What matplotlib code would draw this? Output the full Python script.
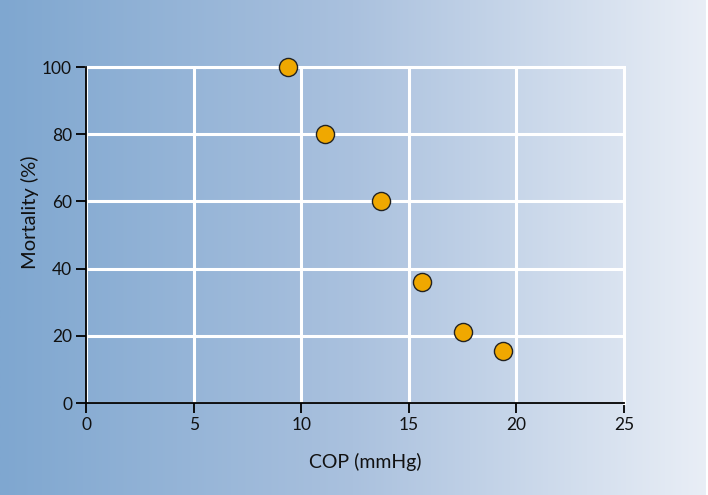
import numpy as np
import matplotlib.pyplot as plt
from matplotlib.colors import LinearSegmentedColormap

# COP vs mortality
cop = [9.4, 11.1, 13.7, 15.6, 17.5, 19.4]
mortality = [100, 80, 60, 36, 21, 15.5]
x_ticks = [0, 5, 10, 15, 20, 25]
y_ticks = [0, 20, 40, 60, 80, 100]

W, H = 708, 495
fig = plt.figure(figsize=(W / 100, H / 100), dpi=100)

# gradient background panel
bg = fig.add_axes([0, 0, 1 - 2 / W, 1])
cmap = LinearSegmentedColormap.from_list("bg", ["#7fa7d0", "#aac1de", "#e9eef6"])
bg.imshow(np.linspace(0, 1, 256).reshape(1, -1), aspect="auto", cmap=cmap, extent=[0, 1, 0, 1])
bg.set_axis_off()

left, right = 86 / W, 624 / W
top, bottom = 67 / H, 403 / H
ax = fig.add_axes([left, 1 - bottom, right - left, bottom - top])
ax.patch.set_alpha(0)

ax.scatter(cop, mortality, s=170, color="#f0a800", edgecolor="#222222", linewidth=1.0,
           zorder=5, clip_on=False)

ax.set_xlim(0, 25)
ax.set_ylim(0, 100)
ax.set_xticks(x_ticks)
ax.set_yticks(y_ticks)
ax.grid(True, color="white", linewidth=2.2)
ax.set_axisbelow(True)

for s in ["top", "right"]:
    ax.spines[s].set_color("white")
    ax.spines[s].set_linewidth(2.2)
for s in ["left", "bottom"]:
    ax.spines[s].set_color("black")
    ax.spines[s].set_linewidth(1.3)
    ax.spines[s].set_zorder(4)

font = ["Lato", "DejaVu Sans"]
ax.tick_params(length=7, width=1.3, color="black", pad=3)
for lab in ax.get_xticklabels() + ax.get_yticklabels():
    lab.set_fontfamily(font)
    lab.set_fontsize(12.5)
    lab.set_color("#111111")

ax.set_xlabel("COP (mmHg)", family=font, fontsize=14, color="#111111", va="center")
ax.xaxis.set_label_coords(0.519, -0.176)
ax.set_ylabel("Mortality (%)", family=font, fontsize=14.5, color="#111111", va="center")
ax.yaxis.set_label_coords(-0.104, 0.568)

fig.savefig("out.png", dpi=100)
